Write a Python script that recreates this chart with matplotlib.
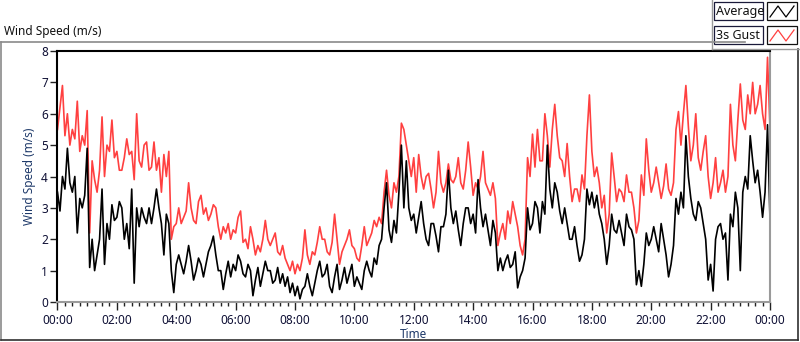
import numpy as np
import matplotlib
matplotlib.use("Agg")
import matplotlib.pyplot as plt
from matplotlib.lines import Line2D
from matplotlib.patches import Rectangle

plt.rcParams['font.family'] = ['Noto Sans', 'DejaVu Sans']

# Sampling interval (minutes) of the values below
step_min = 5

gust = [
    5.5, 6.2, 6.9, 5.3, 6.0, 5.0, 5.5, 5.2, 6.4, 4.8, 5.3, 5.0,   # 00:00-00:55
    6.1, 2.2, 4.5, 3.9, 3.5, 4.2, 5.9, 4.0, 5.0, 4.8, 5.8, 4.6,   # 01
    4.8, 4.2, 4.2, 4.6, 5.2, 4.7, 4.8, 3.9, 6.0, 4.5, 4.3, 5.0,   # 02
    5.1, 4.2, 4.3, 5.1, 4.2, 4.6, 3.5, 4.7, 4.0, 4.8, 2.0, 2.4,   # 03
    2.5, 3.0, 2.5, 2.7, 2.9, 3.8, 3.0, 2.6, 2.5, 3.2, 3.4, 2.8,   # 04
    3.0, 2.6, 2.8, 3.1, 3.0, 2.4, 2.0, 2.4, 2.2, 2.5, 2.0, 2.3,   # 05
    2.2, 2.7, 2.9, 1.9, 2.0, 1.7, 2.4, 2.0, 1.5, 1.8, 1.6, 2.0,   # 06
    2.6, 2.0, 1.8, 2.0, 2.2, 1.6, 1.5, 1.8, 1.4, 1.2, 1.0, 1.3,   # 07
    0.9, 1.2, 1.0, 1.4, 2.3, 1.5, 1.2, 1.6, 1.5, 1.9, 2.4, 2.0,   # 08
    2.0, 1.6, 1.5, 1.9, 2.8, 2.0, 1.2, 1.6, 1.8, 2.0, 2.3, 1.8,   # 09
    1.7, 1.4, 1.3, 1.8, 2.4, 1.8, 2.0, 2.2, 2.6, 2.4, 2.7, 2.5,   # 10
    3.5, 4.2, 3.4, 3.0, 3.8, 3.5, 4.0, 5.7, 5.5, 5.0, 4.5, 4.0,   # 11
    4.6, 3.5, 4.7, 4.0, 3.6, 4.0, 4.1, 3.6, 3.0, 3.5, 4.8, 3.8,   # 12
    3.5, 3.8, 4.4, 3.9, 3.8, 4.0, 4.6, 3.8, 3.6, 4.2, 5.1, 4.3,   # 13
    3.4, 3.8, 3.6, 4.0, 4.8, 3.8, 3.6, 3.4, 3.8, 3.3, 1.8, 2.2,   # 14
    2.5, 2.0, 2.9, 2.5, 3.2, 2.8, 2.4, 1.8, 1.5, 2.0, 4.6, 4.0,   # 15
    5.35, 4.3, 5.5, 4.5, 4.5, 6.0, 5.3, 4.3, 5.5, 6.3, 5.3, 4.6,  # 16
    4.5, 4.0, 5.05, 4.0, 3.2, 3.6, 3.6, 3.2, 4.05, 3.6, 5.3, 6.6, # 17
    4.8, 4.0, 4.3, 3.8, 3.0, 3.4, 2.2, 2.8, 4.75, 4.0, 3.2, 3.6,  # 18
    3.5, 3.2, 4.05, 3.5, 3.5, 3.0, 2.2, 2.6, 4.05, 3.4, 5.2, 4.2, # 19
    3.5, 3.8, 4.3, 3.8, 3.3, 3.7, 4.4, 3.6, 3.4, 3.8, 5.5, 6.07,  # 20
    5.0, 6.0, 6.9, 5.6, 4.5, 5.0, 6.0, 4.6, 4.2, 4.8, 5.3, 4.0,   # 21
    3.3, 3.8, 4.6, 3.5, 3.8, 4.2, 3.5, 4.0, 6.3, 5.0, 4.5, 5.8,   # 22
    6.95, 5.8, 5.5, 6.6, 6.0, 7.0, 6.0, 6.3, 6.9, 6.0, 5.5, 7.8,  # 23
    5.5,
]

average = [
    3.5, 2.9, 4.0, 3.6, 4.9, 3.8, 3.5, 4.0, 2.2, 3.3, 3.0, 3.4,   # 00
    4.9, 1.1, 2.0, 1.0, 1.5, 2.0, 3.6, 1.2, 2.5, 2.0, 3.1, 2.6,   # 01
    2.7, 3.2, 3.0, 2.0, 2.5, 1.7, 3.6, 0.6, 3.0, 2.4, 3.0, 2.7,   # 02
    2.5, 3.0, 2.5, 3.0, 3.6, 3.0, 2.5, 1.5, 2.8, 2.5, 1.0, 0.3,   # 03
    1.2, 1.5, 1.2, 0.9, 1.3, 1.8, 1.3, 0.7, 1.0, 1.4, 1.2, 0.8,   # 04
    1.2, 1.6, 1.8, 2.1, 1.5, 1.0, 1.0, 0.4, 0.9, 1.3, 0.8, 1.2,   # 05
    1.0, 1.5, 1.3, 0.9, 0.8, 1.2, 1.0, 0.2, 0.7, 1.1, 0.5, 0.9,   # 06
    1.3, 1.0, 1.0, 0.6, 0.7, 1.1, 0.6, 0.9, 0.5, 0.8, 0.3, 0.6,   # 07
    0.2, 0.5, 0.1, 0.4, 0.5, 0.9, 0.5, 0.2, 0.6, 1.0, 1.3, 0.8,   # 08
    0.9, 1.2, 0.5, 0.3, 0.8, 1.2, 0.4, 0.7, 1.1, 0.6, 0.9, 1.2,   # 09
    0.5, 0.8, 0.6, 0.4, 1.0, 1.3, 1.0, 0.8, 1.4, 1.2, 1.8, 2.0,   # 10
    3.0, 3.8, 2.3, 1.9, 2.6, 2.2, 3.5, 5.0, 3.0, 4.5, 3.0, 2.6,   # 11
    2.8, 2.2, 2.7, 3.2, 2.5, 2.0, 1.8, 2.5, 2.5, 2.1, 1.6, 2.4,   # 12
    2.4, 2.8, 4.2, 3.0, 2.5, 2.9, 2.3, 1.8, 2.5, 3.0, 3.0, 2.5,   # 13
    2.8, 2.2, 3.9, 3.0, 2.4, 2.8, 2.3, 1.8, 2.6, 2.2, 1.0, 1.4,   # 14
    1.0, 1.3, 1.5, 1.1, 1.2, 1.6, 0.45, 0.8, 1.0, 1.4, 3.0, 2.3,  # 15
    2.5, 3.2, 3.0, 2.2, 3.2, 2.8, 5.0, 3.6, 3.0, 3.8, 3.5, 2.9,   # 16
    2.5, 3.0, 2.5, 2.0, 2.0, 2.4, 1.8, 1.3, 1.5, 2.0, 3.6, 3.1,   # 17
    3.5, 3.0, 3.4, 2.8, 2.5, 2.0, 1.2, 1.8, 2.8, 2.3, 2.2, 2.6,   # 18
    2.2, 1.8, 2.8, 2.4, 2.3, 2.0, 0.55, 1.0, 0.5, 1.2, 2.2, 1.8,  # 19
    2.0, 2.4, 2.0, 1.6, 2.5, 2.0, 1.5, 0.8, 1.2, 1.8, 3.3, 2.8,   # 20
    3.5, 3.0, 5.3, 4.0, 3.3, 2.8, 2.6, 3.2, 3.0, 2.5, 2.0, 0.7,   # 21
    1.2, 0.35, 2.0, 2.4, 2.5, 2.0, 2.2, 0.7, 2.8, 2.4, 3.5, 3.0,  # 22
    1.0, 3.5, 4.0, 3.6, 5.3, 4.5, 3.8, 4.2, 3.5, 2.7, 3.5, 5.65,  # 23
    2.6,
]

y_ticks = [0, 1, 2, 3, 4, 5, 6, 7, 8]
x_tick_labels = ["00:00", "02:00", "04:00", "06:00", "08:00", "10:00", "12:00",
                 "14:00", "16:00", "18:00", "20:00", "22:00", "00:00"]

W, H = 800, 342
fig = plt.figure(figsize=(W / 100, H / 100), dpi=100)
fig.patch.set_facecolor('white')

# Outer frame
def fline(x0, y0, x1, y1, color, lw=1.0):
    fig.add_artist(Line2D([x0 / W, x1 / W], [1 - y0 / H, 1 - y1 / H],
                          color=color, lw=lw, transform=fig.transFigure))

fline(1, 42, 745, 42, '#8a8a8a', 1.2)
fline(1, 42, 1, 340, '#8a8a8a', 1.2)
fline(1, 340, 798, 340, '#303030', 1.2)
fline(798, 49, 798, 340, '#303030', 1.2)

fig.text(4 / W, 1 - 32 / H, "Wind Speed (m/s)", fontsize=8.5, color='#111111',
         va='center', ha='left')

# Legend panel
fline(712, 0, 712, 49, '#9a9a9a', 1.0)
fline(712, 49, 800, 49, '#9a9a9a', 1.0)
legend_rows = [("Average", 'black', 2), ("3s Gust", '#ff4040', 26)]
for label, col, top in legend_rows:
    fig.add_artist(Rectangle((714 / W, 1 - (top + 18) / H), 49 / W, 18 / H,
                             transform=fig.transFigure, facecolor='white',
                             edgecolor='#1a1a3a', lw=0.9))
    fig.text(716 / W, 1 - (top + 9.5) / H, label, fontsize=9, color='#111111',
             va='center', ha='left')
    fig.add_artist(Rectangle((767 / W, 1 - (top + 18) / H), 30 / W, 18 / H,
                             transform=fig.transFigure, facecolor='white',
                             edgecolor='#111111', lw=0.9))
    zx = np.array([770, 778, 786, 794])
    zy = np.array([top + 15, top + 4, top + 15, top + 4])
    fig.add_artist(Line2D(zx / W, 1 - zy / H, color=col, lw=0.9,
                          transform=fig.transFigure))

# Plot axes
left, right, top, bottom = 57.5, 770, 51, 302
ax = fig.add_axes([left / W, 1 - bottom / H, (right - left) / W, (bottom - top) / H])

t = np.arange(len(gust)) * step_min
ax.plot(t, gust, color='#ff4040', lw=1.2)
ax.plot(t, average, color='black', lw=1.2)

ax.set_xlim(0, 1440)
ax.set_ylim(0, 8)
ax.set_yticks(y_ticks)
ax.set_yticklabels([str(v) for v in y_ticks])
ax.set_xticks(np.arange(0, 1441, 120))
ax.set_xticklabels(x_tick_labels)
ax.set_xticks(np.arange(0, 1441, 15), minor=True)

lab_col = '#0f1035'
ax.tick_params(axis='both', which='major', labelsize=8.5, labelcolor=lab_col,
               color='#222222', width=1.0)
ax.tick_params(axis='y', which='major', length=5, pad=2)
ax.tick_params(axis='x', which='major', length=6, pad=3)
ax.tick_params(axis='x', which='minor', length=3, width=1.0, color='#222222')

for s in ['top', 'left']:
    ax.spines[s].set_color('black')
    ax.spines[s].set_linewidth(1.5)
for s in ['bottom', 'right']:
    ax.spines[s].set_color('#9a9a9a')
    ax.spines[s].set_linewidth(1.5)

fig.text(30 / W, 1 - 176 / H, "Wind Speed (m/s)", fontsize=8.5, color='#1f3a6a',
         rotation=90, va='center', ha='center')
fig.text(413 / W, 1 - 334 / H, "Time", fontsize=8.5, color='#1f3a6a',
         va='center', ha='center')

fig.savefig("out.png", dpi=100, facecolor='white')
